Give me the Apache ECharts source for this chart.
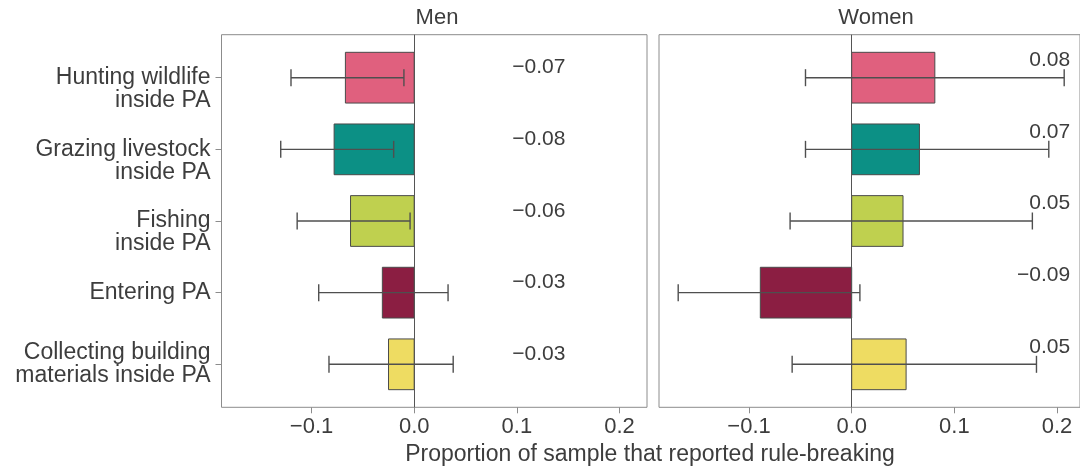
<!DOCTYPE html>
<html>
<head>
<meta charset="utf-8">
<script src="https://cdn.jsdelivr.net/npm/echarts@6/dist/echarts.min.js"></script>
<style>html,body{margin:0;padding:0;background:#fff}#c{width:1080px;height:468px}</style>
</head>
<body>
<div id="c"></div>
<script>
const categories = ['Hunting wildlife\ninside PA','Grazing livestock\ninside PA','Fishing\ninside PA','Entering PA','Collecting building\nmaterials inside PA'];
const barColors = ['#E0607E','#0C9085','#BFD04F','#8B1E42','#EEDC62'];
const menEst = [-0.067, -0.078, -0.062, -0.031, -0.025];
const menLo  = [-0.120, -0.130, -0.114, -0.093, -0.083];
const menHi  = [-0.010, -0.020, -0.004, 0.033, 0.038];
const menLabels = ['\u22120.07','\u22120.08','\u22120.06','\u22120.03','\u22120.03'];
const womenEst = [0.081, 0.066, 0.050, -0.089, 0.053];
const womenLo  = [-0.045, -0.045, -0.060, -0.169, -0.058];
const womenHi  = [0.207, 0.192, 0.176, 0.008, 0.180];
const womenLabels = ['0.08','0.07','0.05','\u22120.09','0.05'];
const xTicks = [-0.1, 0, 0.1, 0.2];
const yTicks = [0, 1, 2, 3, 4];
const panelTitles = ['Men','Women'];
const xAxisTitle = 'Proportion of sample that reported rule-breaking';

const FONT = 'Liberation Sans';
const TXT = '#3d3d3d';
// labels whose first line sits at the tick (as in the reference)
const firstLineAtTick = [true, true, true, false, false];

function xAxisDef(gi, xmax){
  return {
    type:'value', gridIndex:gi, min:-0.1877, max:xmax, position:'bottom',
    axisLine:{show:false, onZero:false},
    splitLine:{show:false},
    axisTick:{show:true, length:6, lineStyle:{color:'#8c8c8c'}, customValues:xTicks},
    axisLabel:{show:true, margin:9, color:TXT, fontFamily:FONT, fontSize:22, customValues:xTicks,
      formatter:v=>{const s=Math.abs(v).toFixed(1); return (v< -1e-9?'\u2212':'')+s;}}
  };
}
function yAxisDef(gi, showLabels){
  return {
    type:'value', gridIndex:gi, min:-0.6, max:4.6, inverse:true, position:'left',
    axisLine:{show:false, onZero:false},
    axisTick:{show:showLabels, length:6, customValues:yTicks, lineStyle:{color:'#8c8c8c'}},
    axisLabel:{show:showLabels, margin:11, color:TXT, fontFamily:FONT, fontSize:23, lineHeight:23, align:'right',
      customValues:yTicks, formatter:v=>{const i=Math.round(v); return (firstLineAtTick[i]?'\n':'')+categories[i];}},
    splitLine:{show:false}
  };
}
function barSeries(gi, est){
  return {
    type:'custom', xAxisIndex:gi, yAxisIndex:gi, silent:true, z:2,
    data: est.map((v,i)=>[i, v]),
    encode:{y:0, x:1},
    renderItem:(params, api)=>{
      const c = api.value(0), v = api.value(1);
      const p0 = api.coord([0, c - 0.354]);
      const p1 = api.coord([v, c + 0.354]);
      const x = Math.min(p0[0], p1[0]), w = Math.abs(p1[0]-p0[0]);
      return {type:'rect', shape:{x:x, y:p0[1], width:w, height:p1[1]-p0[1]},
        style:{fill:barColors[params.dataIndex], stroke:'#4a4a4a', lineWidth:1}};
    },
    markLine:{silent:true, symbol:'none', label:{show:false}, lineStyle:{color:'#555', width:1, type:'solid'},
      data:[{xAxis:0}]}
  };
}
function errSeries(gi, lo, hi){
  return {
    type:'custom', xAxisIndex:gi, yAxisIndex:gi, silent:true, z:5,
    data: lo.map((l,i)=>[i, l, hi[i]]),
    encode:{y:0, x:[1,2]},
    renderItem:(params, api)=>{
      const c = api.value(0);
      const a = api.coord([api.value(1), c]);
      const b = api.coord([api.value(2), c]);
      const h = 8.5;
      const st = {stroke:'#4f4f4f', lineWidth:1.4};
      return {type:'group', children:[
        {type:'line', shape:{x1:a[0], y1:a[1], x2:b[0], y2:b[1]}, style:st},
        {type:'line', shape:{x1:a[0], y1:a[1]-h, x2:a[0], y2:a[1]+h}, style:st},
        {type:'line', shape:{x1:b[0], y1:b[1]-h, x2:b[0], y2:b[1]+h}, style:st}
      ]};
    }
  };
}
function labelSeries(gi, labels, xpos, align, dy){
  return {
    type:'custom', xAxisIndex:gi, yAxisIndex:gi, silent:true, z:6,
    data: labels.map((t,i)=>[i, xpos]),
    encode:{y:0, x:1},
    renderItem:(params, api)=>{
      const p = api.coord([api.value(1), api.value(0)]);
      return {type:'text', x:p[0], y:p[1]+dy, style:{text:labels[params.dataIndex], fill:TXT, font:'21px "'+FONT+'"', align:align, verticalAlign:'middle'}};
    }
  };
}

const chart = echarts.init(document.getElementById('c'), null, {renderer:'canvas'});
chart.setOption({
  animation:false,
  backgroundColor:'#fff',
  grid:[
    {left:221.5, right:1080-647, top:34.7, bottom:468-407.3, show:true, borderColor:'#8c8c8c', borderWidth:1, backgroundColor:'transparent'},
    {left:659, right:0, top:34.7, bottom:468-407.3, show:true, borderColor:'#8c8c8c', borderWidth:1, backgroundColor:'transparent'}
  ],
  xAxis:[xAxisDef(0, 0.2268), xAxisDef(1, 0.2224)],
  yAxis:[yAxisDef(0,true), yAxisDef(1,false)],
  graphic:[
    {type:'text', x:437, y:18, style:{text:panelTitles[0], fill:TXT, font:'22px "'+FONT+'"', align:'center', verticalAlign:'middle'}},
    {type:'text', x:876, y:18, style:{text:panelTitles[1], fill:TXT, font:'22px "'+FONT+'"', align:'center', verticalAlign:'middle'}},
    {type:'text', x:650, y:455, style:{text:xAxisTitle, fill:TXT, font:'23px "'+FONT+'"', align:'center', verticalAlign:'middle'}}
  ],
  series:[
    barSeries(0, menEst), errSeries(0, menLo, menHi), labelSeries(0, menLabels, 0.0955, 'left', -10),
    barSeries(1, womenEst), errSeries(1, womenLo, womenHi), labelSeries(1, womenLabels, 0.2128, 'right', -17.5)
  ]
});
</script>
</body>
</html>
